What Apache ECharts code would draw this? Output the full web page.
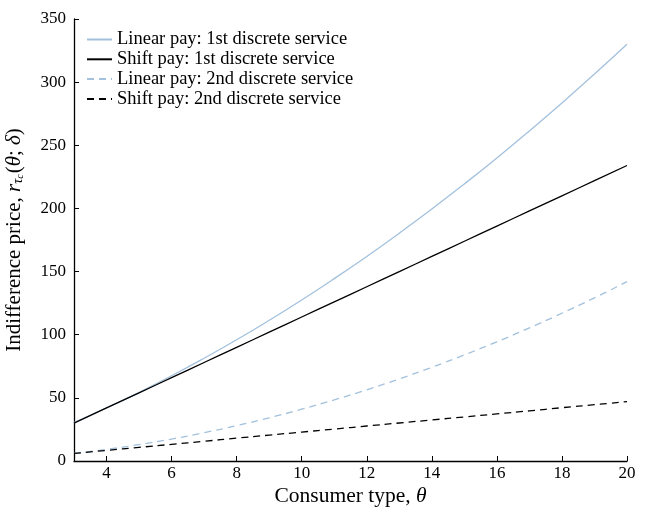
<!DOCTYPE html>
<html><head><meta charset="utf-8">
<script src="https://cdn.jsdelivr.net/npm/echarts@6/dist/echarts.min.js"></script>
<style>html,body{margin:0;padding:0;background:#fff}#c{width:650px;height:512px}</style>
</head><body><div id="c"></div>
<script>
const theta = [3,4,5,6,7,8,9,10,11,12,13,14,15,16,17,18,19,20];
const linear1 = [30.4,42,54.4,67.5,81.4,96,111.4,127.5,144.4,162,180.4,199.5,219.4,240,261.4,283.5,306.4,330];
const shift1 = [30,42,54,66,78,90,102,114,126,138,150,162,174,186,198,210,222,234];
const linear2 = [6.0,9.2,13.0,17.4,22.4,28.0,34.2,41.0,48.4,56.4,65.0,74.2,84.0,94.4,105.4,117.0,129.2,142.0];
const shift2 = [6,8.4,10.8,13.2,15.6,18.1,20.5,22.9,25.3,27.7,30.1,32.5,34.9,37.3,39.7,42.2,44.6,47];
const xTicks = [4,6,8,10,12,14,16,18,20];
const names = ['Linear pay: 1st discrete service','Shift pay: 1st discrete service','Linear pay: 2nd discrete service','Shift pay: 2nd discrete service'];
const FONT = 'Liberation Serif';
const blue = '#a3c1dd', black = '#000';
function mk(name, vals, color, type){
  return {name, type:'line', data: theta.map((t,i)=>[t, vals[i]]), smooth: true, showSymbol:false, symbol:'none',
    lineStyle:{color, width:1.3, type: type==='dashed'?[7,5]:'solid'}, itemStyle:{color}};
}
const chart = echarts.init(document.getElementById('c'));
chart.setOption({
  animation:false,
  textStyle:{fontFamily:FONT},
  grid:{left:74,right:23,top:19,bottom:51,containLabel:false,outerBoundsMode:'none'},
  legend:{orient:'vertical',left:81,top:25,itemWidth:25,itemHeight:10,itemGap:0.8,
    itemStyle:{opacity:0},
    textStyle:{fontFamily:FONT,fontSize:18.5,color:'#000'},
    data:names},
  xAxis:{type:'value',min:3,max:20,
    name:'Consumer type, {i|θ}',nameLocation:'middle',nameGap:24,nameMoveOverlap:false,
    nameTextStyle:{fontFamily:FONT,fontSize:21.5,color:'#000',rich:{i:{fontStyle:'italic',fontFamily:FONT,fontSize:21.5,color:'#000'}}},
    axisLine:{lineStyle:{color:'#000',width:1.3}},
    axisTick:{inside:true,length:5,customValues:xTicks,lineStyle:{color:'#000'}},
    axisLabel:{customValues:xTicks,fontFamily:FONT,fontSize:17,color:'#000',margin:4},
    splitLine:{show:false}},
  yAxis:{type:'value',min:0,max:350,interval:50,
    name:'{n|Indifference price, }{i|r}{s|τ}{ss|c}{n|(}{i|θ}{n|; }{i|δ}{n|)}',
    nameLocation:'middle',nameGap:49,nameMoveOverlap:false,
    nameTextStyle:{fontFamily:FONT,fontSize:21,color:'#000',
      rich:{n:{fontFamily:FONT,fontSize:21,color:'#000'},
            i:{fontFamily:FONT,fontSize:21,fontStyle:'italic',color:'#000'},
            s:{fontFamily:FONT,fontSize:14,fontStyle:'italic',color:'#000',verticalAlign:'bottom',padding:[7,0,0,0]},
            ss:{fontFamily:FONT,fontSize:10,fontStyle:'italic',color:'#000',verticalAlign:'bottom',padding:[11,1,0,0]}}},
    axisLine:{show:true,lineStyle:{color:'#000',width:1.3}},
    axisTick:{show:true,inside:true,length:5,lineStyle:{color:'#000'}},
    axisLabel:{fontFamily:FONT,fontSize:17,color:'#000',margin:8},
    splitLine:{show:false}},
  series:[mk(names[0],linear1,blue,'solid'),mk(names[1],shift1,black,'solid'),mk(names[2],linear2,blue,'dashed'),mk(names[3],shift2,black,'dashed')]
});
</script></body></html>
